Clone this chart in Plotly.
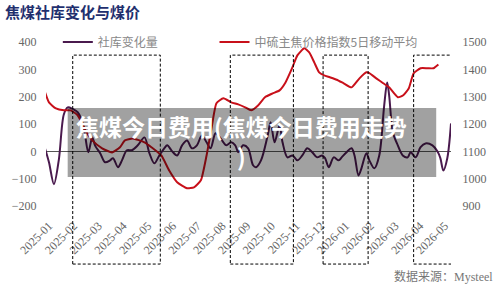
import plotly.graph_objects as go

# ---- data (x in months since 2025-01) ----
month_labels = ["2025-01", "2025-02", "2025-03", "2025-04", "2025-05", "2025-06", "2025-07",
                "2025-08", "2025-09", "2025-10", "2025-11", "2025-12", "2026-01", "2026-02",
                "2026-03", "2026-04", "2026-05"]

stock_x = [-0.16, 0, 0.20, 0.40, 0.60, 0.76, 0.96, 1.16, 1.39, 1.59,
           1.75, 1.87, 2.07, 2.27, 2.47, 2.59, 2.79, 2.95, 3.15, 3.35,
           3.59, 3.86, 4.06, 4.26, 4.46, 4.66, 4.78, 4.98, 5.18, 5.38,
           5.58, 5.78, 5.98, 6.18, 6.37, 6.53, 6.73, 6.85, 7.05, 7.17,
           7.37, 7.53, 7.65, 7.85, 8.05, 8.25, 8.37, 8.57, 8.84, 8.96,
           9.12, 9.32, 9.44, 9.64, 9.84, 10.04, 10.24, 10.44, 10.64, 10.84,
           11.04, 11.16, 11.31, 11.51, 11.71, 11.83, 12.03, 12.23, 12.35, 12.51,
           12.63, 12.83, 12.95, 13.15, 13.35, 13.55, 13.67, 13.75, 13.90, 14.10,
           14.30, 14.50, 14.62, 14.82, 15.02, 15.22, 15.50, 15.70, 15.82, 15.94,
           16.10, 16.25]
stock_change = [11, -40, -120, -30, 135, 161, 155, 143, 95, -3,
                51, 20, -7, -40, -33, -25, -58, -33, 4, 4,
                22, 51, -7, -44, -15, 11, 22, 0, -15, 22,
                40, 11, 22, 58, 33, 11, 66, 58, 33, 22,
                33, 22, -3, 22, 11, -51, -58, -33, 58, 106,
                33, 95, 33, -22, -15, -33, -15, 11, -3, -22,
                -15, -25, -58, -22, -33, -22, -3, 11, -15, -88,
                -62, -7, -33, -62, -15, 168, 252, 205, 70, 22,
                -15, -22, -3, -22, 15, 29, 22, 0, -25, -70,
                -25, 102]

price_x = [-0.16, 0, 0.28, 0.60, 0.88, 1.16, 1.47, 1.75, 2.15, 2.55,
           2.87, 3.07, 3.39, 3.86, 4.14, 4.54, 4.86, 5.18, 5.58, 5.86,
           6.14, 6.37, 6.57, 6.77, 7.05, 7.37, 7.65, 7.93, 8.17, 8.45,
           8.73, 9.04, 9.32, 9.56, 9.84, 10.04, 10.32, 10.52, 10.72, 10.92,
           11.12, 11.35, 11.63, 11.91, 12.23, 12.55, 12.83, 12.95, 13.23, 13.51,
           13.75, 14.10, 14.32, 14.54, 14.74, 15.02, 15.30, 15.54, 15.74]
price_ma5 = [1316, 1279, 1257, 1250, 1250, 1232, 1177, 1140, 1111, 1096,
             1115, 1140, 1147, 1133, 1115, 1085, 1030, 987, 965, 968,
             994, 1085, 1184, 1276, 1294, 1279, 1272, 1261, 1250, 1268,
             1298, 1312, 1323, 1352, 1407, 1451, 1477, 1462, 1426, 1389,
             1378, 1371, 1362, 1349, 1334, 1367, 1389, 1386, 1367, 1349,
             1334, 1298, 1305, 1330, 1385, 1404, 1404, 1404, 1418]

# highlighted periods (month offsets)
box_starts = [0.96, 7.33, 11.08, 14.74]
box_ends = [4.50, 9.88, 12.90, 16.50]

title_text = "焦煤社库变化与煤价"
overlay_text = "焦煤今日费用(焦煤今日费用走势<br>)"
source_text = "数据来源：Mysteel"

SERIF = "Liberation Serif, Noto Sans CJK SC"
CJK = "Noto Sans CJK SC"

fig = go.Figure()
fig.add_trace(go.Scatter(
    x=stock_x, y=stock_change, name="社库变化量", mode="lines", showlegend=True,
    line=dict(color="#4a1a4e", width=2, shape="spline", smoothing=0.9),
    legend="legend", yaxis="y"))
fig.add_trace(go.Scatter(
    x=price_x, y=price_ma5, name="中硫主焦价格指数5日移动平均", mode="lines", showlegend=True,
    line=dict(color="#c8101a", width=2, shape="spline", smoothing=0.5),
    legend="legend2", yaxis="y2"))

shapes = []
for s, e in zip(box_starts, box_ends):
    shapes.append(dict(type="rect", xref="x", yref="paper", x0=s, x1=e,
                       y0=-0.354, y1=0.92, line=dict(color="black", width=1, dash="3px,2px"),
                       fillcolor="rgba(0,0,0,0)", layer="above"))
# semi-transparent overlay band
shapes.append(dict(type="rect", xref="paper", yref="paper",
                   x0=(62 - 40) / 411, x1=(436 - 40) / 411,
                   y0=(206 - 177) / 164, y1=(206 - 108) / 164,
                   line=dict(width=0), fillcolor="rgba(0,0,0,0.37)", layer="above"))

annotations = [
    dict(text=overlay_text, xref="paper", yref="paper", x=(238 - 40) / 411, y=(206 - 107) / 164,
         xanchor="center", yanchor="top", showarrow=False, align="center",
         font=dict(family=CJK, size=23, color="white", weight="bold")),
    dict(text=source_text, xref="paper", yref="paper", x=(496 - 40) / 411, y=(206 - 276) / 164,
         xanchor="right", yanchor="middle", showarrow=False,
         font=dict(family=SERIF, size=12, color="#777777")),
]

fig.update_layout(
    width=500, height=286, showlegend=True,
    margin=dict(l=40, r=49, t=42, b=80),
    paper_bgcolor="white", plot_bgcolor="white",
    title=dict(text=title_text, xref="container", yref="container", x=5 / 500, y=1 - 13 / 286,
               xanchor="left", yanchor="middle",
               font=dict(family=CJK, size=15, color="#1f2f6e", weight="bold")),
    xaxis=dict(range=[-0.12, 16.25], tickvals=list(range(len(month_labels))), ticktext=month_labels,
               tickangle=-45, showgrid=False, zeroline=False, showline=False,
               ticks="outside", ticklen=7, tickcolor="rgba(0,0,0,0)",
               tickfont=dict(family=SERIF, size=12, color="#666666")),
    yaxis=dict(range=[-200, 400], dtick=100, showgrid=False, zeroline=True,
               zerolinecolor="#555555", zerolinewidth=1, showline=False,
               ticks="outside", ticklen=6, tickcolor="rgba(0,0,0,0)",
               tickfont=dict(family=SERIF, size=12, color="#666666")),
    yaxis2=dict(range=[900, 1500], dtick=100, overlaying="y", side="right", showgrid=False,
                zeroline=False, showline=False, ticks="outside", ticklen=8,
                tickcolor="rgba(0,0,0,0)",
                tickfont=dict(family=SERIF, size=12, color="#666666")),
    legend=dict(orientation="h", x=(52 - 40) / 411, y=1.0, xanchor="left", yanchor="middle",
                bgcolor="rgba(0,0,0,0)", font=dict(family=CJK, size=12, color="#888888")),
    legend2=dict(orientation="h", x=(211 - 40) / 411, y=1.0, xanchor="left", yanchor="middle",
                 bgcolor="rgba(0,0,0,0)", font=dict(family=CJK, size=12, color="#888888")),
    shapes=shapes, annotations=annotations,
)

fig.write_html("out.html")
